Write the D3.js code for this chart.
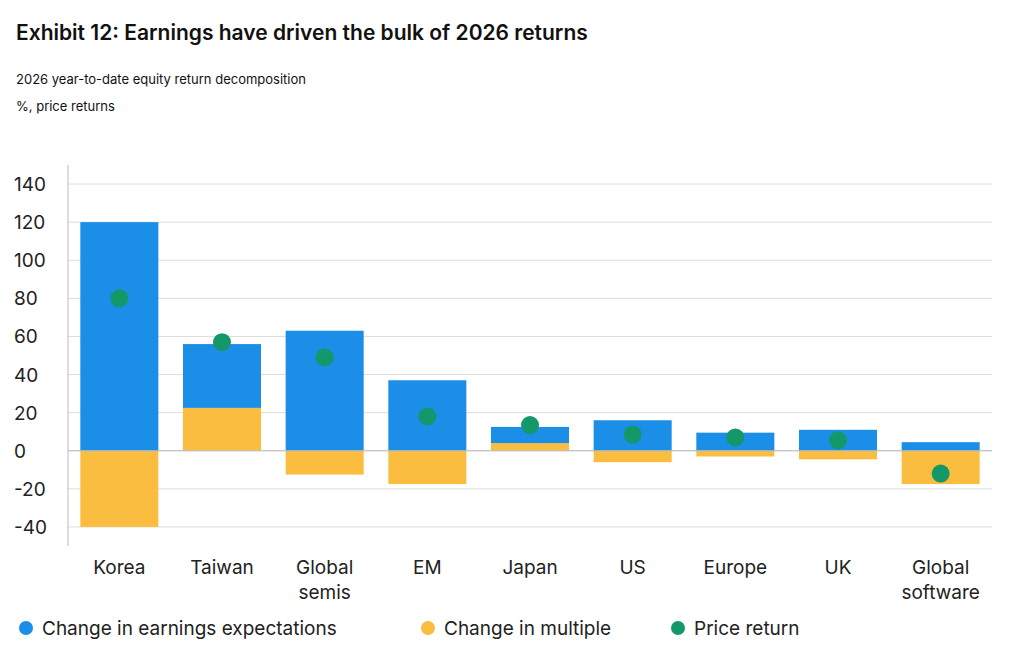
<!DOCTYPE html>
<html><head><meta charset="utf-8">
<script src="https://cdn.jsdelivr.net/npm/d3@7"></script>
<style>body{margin:0;background:#fff;font-family:Inter,"Noto Sans",sans-serif;}</style>
</head><body><div id="chart" style="width:1024px;height:650px"></div>
<script>
const data = [
    {name:["Korea"], earnings:120, multiple:-40, price:80},
    {name:["Taiwan"], earnings:33.5, multiple:22.5, price:57, stacked:true},
    {name:["Global","semis"], earnings:63, multiple:-12.5, price:49},
    {name:["EM"], earnings:37, multiple:-17.5, price:18},
    {name:["Japan"], earnings:8.5, multiple:4, price:13.5, stacked:true},
    {name:["US"], earnings:16, multiple:-6, price:8.5},
    {name:["Europe"], earnings:9.5, multiple:-3, price:7},
    {name:["UK"], earnings:11, multiple:-4.5, price:5.5},
    {name:["Global","software"], earnings:4.5, multiple:-17.5, price:-12}
];
const colors = {earnings:"#1b8ee8", multiple:"#fbbd3f", price:"#14986a"};

const svg = d3.select("#chart").append("svg").attr("width",1024).attr("height",650);
svg.append("text").attr("x",16).attr("y",40).attr("font-size",21).attr("font-weight",600).attr("fill","#111")
    .text("Exhibit 12: Earnings have driven the bulk of 2026 returns");
svg.append("text").attr("x",16).attr("y",84).attr("font-size",13).attr("fill","#111").text("2026 year-to-date equity return decomposition");
svg.append("text").attr("x",16).attr("y",111).attr("font-size",13).attr("fill","#111").text("%, price returns");

const y = d3.scaleLinear().domain([-50,150]).range([546,165]);
const x = d3.scaleBand().domain(data.map((d,i)=>i)).range([68,992]).paddingInner(0.24).paddingOuter(0.12);

const grid = svg.append("g");
y.ticks(8).forEach(t=>{
    grid.append("line").attr("x1",68).attr("x2",992).attr("y1",y(t)).attr("y2",y(t))
        .attr("stroke","#dcdcdc").attr("stroke-width",1);
    grid.append("text").attr("x",14).attr("y",y(t)+7).attr("font-size",19).attr("fill","#222").text(t);
});
grid.append("line").attr("x1",68).attr("x2",68).attr("y1",165).attr("y2",546).attr("stroke","#bbb");

const g = svg.append("g");
data.forEach((d,i)=>{
    const bx = x(i), bw = x.bandwidth();
    // multiple
    const m0 = 0, m1 = d.multiple;
    g.append("rect").attr("x",bx).attr("width",bw)
        .attr("y",y(Math.max(m0,m1))).attr("height",Math.abs(y(m0)-y(m1))).attr("fill",colors.multiple);
    const e0 = d.stacked ? d.multiple : 0, e1 = e0 + d.earnings;
    g.append("rect").attr("x",bx).attr("width",bw)
        .attr("y",y(Math.max(e0,e1))).attr("height",Math.abs(y(e0)-y(e1))).attr("fill",colors.earnings);
    g.append("circle").attr("cx",bx+bw/2).attr("cy",y(d.price)).attr("r",9).attr("fill",colors.price);
    d.name.forEach((n,j)=>{
        g.append("text").attr("x",bx+bw/2).attr("y",574+j*25).attr("text-anchor","middle")
            .attr("font-size",19).attr("fill","#222").text(n);
    });
});
g.append("line").attr("x1",68).attr("x2",992).attr("y1",y(0)).attr("y2",y(0)).attr("stroke","#bbb");

const legend = [["Change in earnings expectations",colors.earnings,26],["Change in multiple",colors.multiple,428],["Price return",colors.price,678]];
legend.forEach(([t,c,lx])=>{
    svg.append("circle").attr("cx",lx).attr("cy",628).attr("r",7).attr("fill",c);
    svg.append("text").attr("x",lx+16).attr("y",635).attr("font-size",19).attr("fill","#222").text(t);
});
</script></body></html>
